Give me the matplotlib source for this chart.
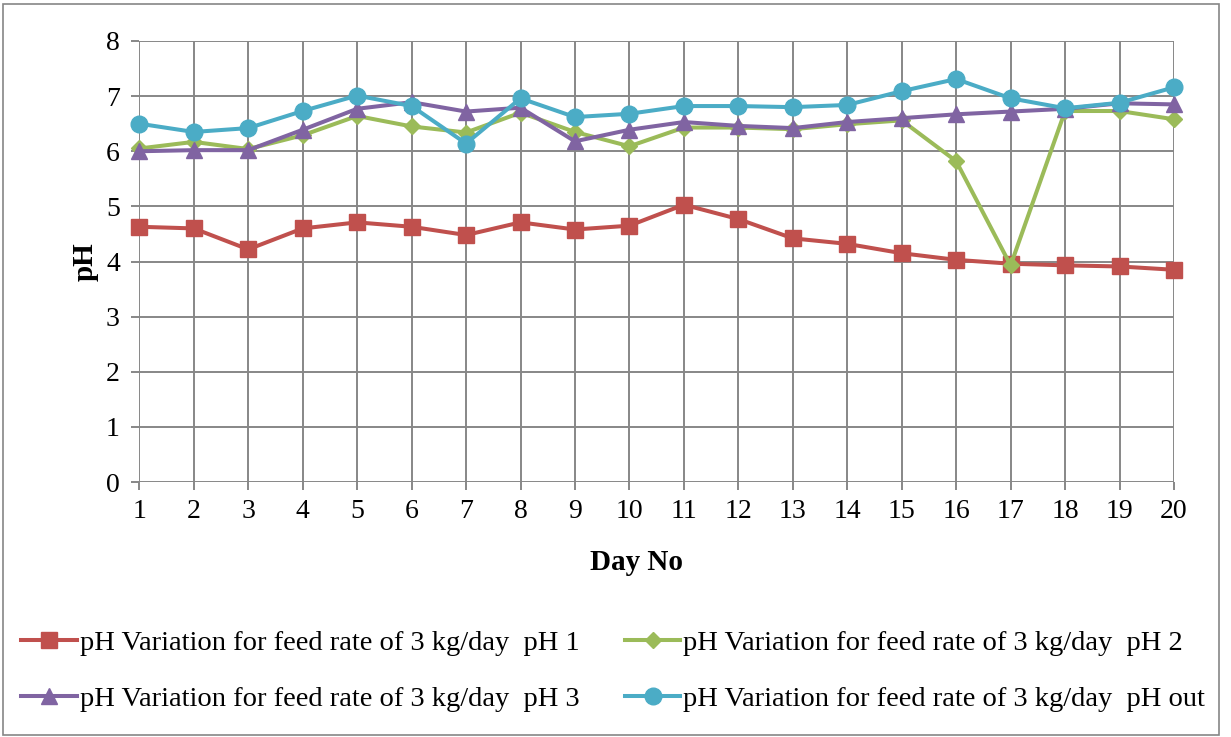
import matplotlib
matplotlib.use("Agg")
import matplotlib.pyplot as plt
from matplotlib.patches import Rectangle

plt.rcParams['font.family'] = ['Liberation Serif', 'DejaVu Serif']

days = list(range(1, 21))
ph1 = [4.63, 4.60, 4.22, 4.60, 4.71, 4.63, 4.48, 4.71, 4.58, 4.65,
       5.03, 4.77, 4.42, 4.32, 4.15, 4.03, 3.96, 3.93, 3.91, 3.85]
ph2 = [6.05, 6.17, 6.04, 6.29, 6.64, 6.45, 6.34, 6.70, 6.35, 6.09,
       6.43, 6.43, 6.40, 6.49, 6.56, 5.82, 3.93, 6.73, 6.73, 6.58]
ph3 = [6.00, 6.02, 6.02, 6.39, 6.77, 6.89, 6.72, 6.79, 6.18, 6.39,
       6.53, 6.46, 6.42, 6.53, 6.60, 6.67, 6.72, 6.77, 6.87, 6.85]
ph_out = [6.50, 6.35, 6.42, 6.73, 7.01, 6.82, 6.14, 6.96, 6.62, 6.68,
          6.82, 6.82, 6.80, 6.84, 7.09, 7.31, 6.96, 6.78, 6.88, 7.16]
labels = ["pH Variation for feed rate of 3 kg/day  pH 1",
          "pH Variation for feed rate of 3 kg/day  pH 2",
          "pH Variation for feed rate of 3 kg/day  pH 3",
          "pH Variation for feed rate of 3 kg/day  pH out"]

W, H = 1231, 737
fig = plt.figure(figsize=(W / 100, H / 100), dpi=100)
ax = fig.add_axes([139.3 / W, 1 - 482 / H, (1174 - 139.3) / W, (482 - 41) / H])

grid_c = "#878787"
lw = 2.9
kw = dict(lw=lw, clip_on=False, zorder=3)
l1, = ax.plot(days, ph1, color="#C0504D", marker="s", ms=12, label=labels[0], **kw)
l2, = ax.plot(days, ph2, color="#9BBB59", marker="D", ms=8.5, label=labels[1], **kw)
l3, = ax.plot(days, ph3, color="#8064A2", marker="^", ms=12, label=labels[2], **kw)
l4, = ax.plot(days, ph_out, color="#4BACC6", marker="o", ms=12, label=labels[3], **kw)

ax.set_xlim(1, 20)
ax.set_ylim(0, 8)
ax.set_xticks(days)
ax.set_yticks(range(0, 9))
ax.grid(True, color=grid_c, lw=1.4)
ax.set_axisbelow(True)
for s in ax.spines.values():
    s.set_visible(False)
ax.tick_params(axis="both", length=6, width=1.4, color=grid_c, labelsize=20, pad=6)
ax.tick_params(axis="y", pad=8)

fig.text(636 / W, 1 - 563 / H, "Day No", ha="center", va="center",
         fontsize=21, fontweight="bold")
fig.text(85 / W, 1 - 262 / H, "pH", ha="center", va="center",
         rotation=90, fontsize=21, fontweight="bold")

# column-major fill, so order handles to get pH1 | pH2 on the first row
fig.legend(handles=[l1, l3, l2, l4], ncol=2, loc="upper left",
           bbox_to_anchor=(10 / W, 1 - 619 / H), frameon=False, fontsize=20.5,
           handlelength=1.95, handletextpad=0.1, columnspacing=1.6,
           labelspacing=1.05, borderaxespad=0)

fig.patches.append(Rectangle((3 / W, 2 / H), (1219 - 3) / W, (733 - 2) / H,
                             transform=fig.transFigure, fill=False,
                             edgecolor="#868686", lw=1.2))

fig.savefig("out.png", dpi=100)
